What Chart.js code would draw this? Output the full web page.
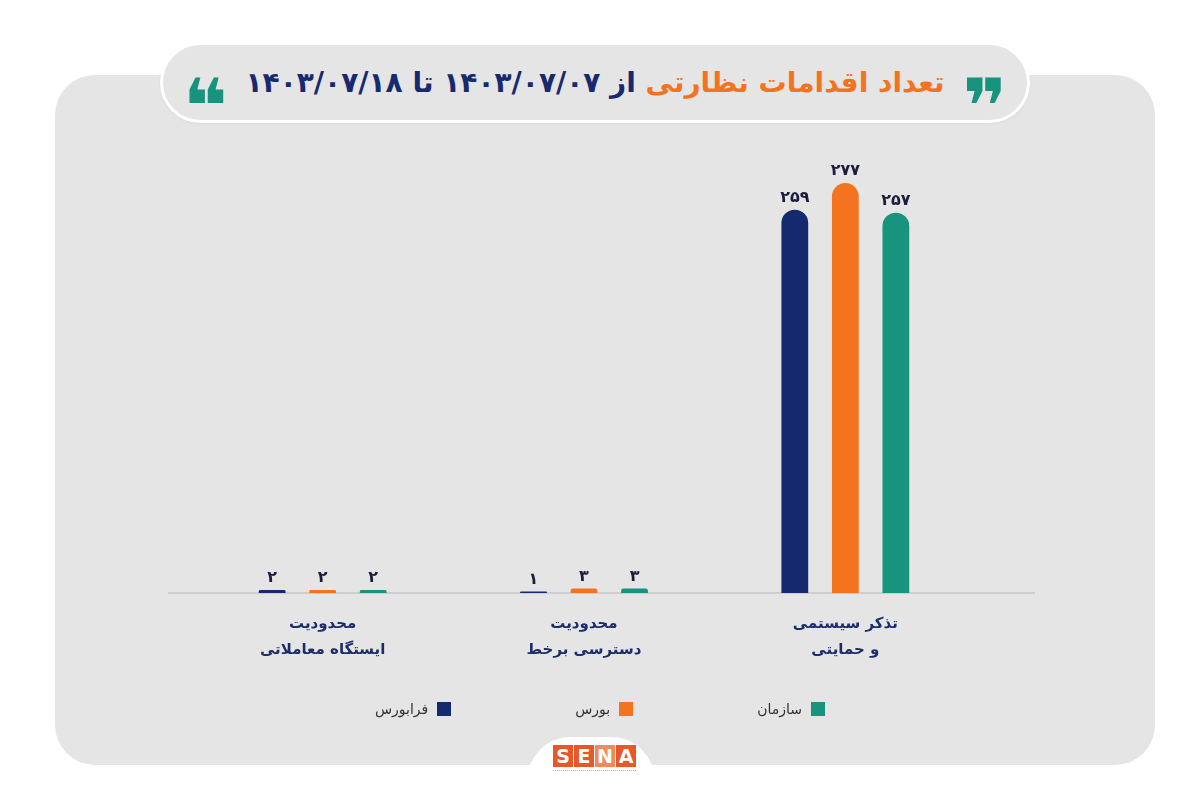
<!DOCTYPE html>
<html lang="fa">
<head>
<meta charset="utf-8">
<script src="https://cdn.jsdelivr.net/npm/chart.js@4.4.1/dist/chart.umd.min.js"></script>
<style>
  html, body { margin:0; padding:0; background:#ffffff; }
  body { width:1200px; height:800px; position:relative; overflow:hidden; font-family:"DejaVu Sans", sans-serif; }
  #panel { position:absolute; left:55px; top:75px; width:1100px; height:690px; background:#e6e5e6; border-radius:40px; }
  #titlePill { position:absolute; left:160px; top:42px; width:864px; height:75px; background:#e6e5e6; border:3px solid #ffffff; border-radius:42px;
    display:flex; align-items:center; justify-content:center; direction:rtl; box-shadow:0 1px 3px rgba(0,0,0,0.05); }
  #titlePill .q { color:#17937e; font-family:"DejaVu Sans", sans-serif; font-weight:bold; font-size:76px; line-height:1; height:40px; margin:0 6px; position:relative; top:6px; }
  #titlePill .t { font-weight:bold; font-size:28px; white-space:nowrap; color:#172a6e; margin:0 12px; }
  #titlePill .t .o { color:#f4731e; }
  #chartWrap { position:absolute; left:0; top:0; width:1200px; height:800px; }
  #legend { position:absolute; left:0; top:701px; width:1200px; display:flex; justify-content:center; direction:rtl; gap:124px; }
  #legend .item { display:flex; align-items:center; direction:rtl; font-size:14px; color:#333; }
  #legend .box { width:14px; height:14px; margin-left:9px; }
  #tab { position:absolute; left:527px; top:737px; width:128px; height:80px; background:#fff; border-radius:44px 44px 0 0; }
  #logo { position:absolute; left:553px; top:745px; display:flex; gap:1px; }
  #logo span { display:block; width:20px; height:22px; background:#e8572a; color:#fff; font:bold 19px "DejaVu Sans", sans-serif; text-align:center; line-height:22px; }
  #logo span.n { background:#f08a5d; }
  #logoSub { position:absolute; left:553px; top:770px; width:83px; height:3px; border-top:1px dotted #c9a28f; }
</style>
</head>
<body>
<div id="panel"></div>
<div id="titlePill">
  <span class="q">❞</span>
  <span class="t"><span class="o">تعداد اقدامات نظارتی</span> از ۱۴۰۳/۰۷/۰۷ تا ۱۴۰۳/۰۷/۱۸</span>
  <span class="q">❝</span>
</div>
<div id="tab"></div>
<div id="logo"><span>S</span><span>E</span><span class="n">N</span><span>A</span></div>
<div id="logoSub"></div>
<div id="chartWrap"><canvas id="c" width="1200" height="800"></canvas></div>
<div id="legend"></div>
<script>
const categories = [["محدودیت", "ایستگاه معاملاتی"], ["محدودیت", "دسترسی برخط"], ["تذکر سیستمی", "و حمایتی"]];
const seriesNames = ["فرابورس", "بورس", "سازمان"];
const faraboursValues = [2, 1, 259];
const boursValues = [2, 3, 277];
const sazmanValues = [2, 3, 257];
const seriesColors = ["#14296e", "#f4731e", "#17937e"];

const faDigits = '۰۱۲۳۴۵۶۷۸۹';
const toFa = v => String(v).replace(/\d/g, d => faDigits[d]);

const valueLabels = {
  id: 'valueLabels',
  afterDatasetsDraw(chart) {
    const ctx = chart.ctx;
    ctx.save();
    ctx.font = 'bold 16px "DejaVu Sans", sans-serif';
    ctx.fillStyle = '#1c1d3a';
    ctx.textAlign = 'center';
    ctx.textBaseline = 'bottom';
    chart.data.datasets.forEach((ds, i) => {
      chart.getDatasetMeta(i).data.forEach((el, j) => {
        ctx.fillText(toFa(ds.data[j]), el.x, el.y - 4);
      });
    });
    ctx.restore();
  }
};

const baseline = {
  id: 'baseline',
  beforeDatasetsDraw(chart) {
    const ctx = chart.ctx, area = chart.chartArea;
    const y = chart.scales.y.getPixelForValue(0);
    ctx.save();
    ctx.strokeStyle = '#b5b5b8';
    ctx.lineWidth = 1.2;
    ctx.beginPath();
    ctx.moveTo(area.left - 24, y);
    ctx.lineTo(area.right + 59, y);
    ctx.stroke();
    ctx.restore();
  }
};

const htmlLegend = {
  id: 'htmlLegend',
  afterUpdate(chart) {
    const el = document.getElementById('legend');
    el.innerHTML = '';
    chart.data.datasets.slice().reverse().forEach(ds => {
      const item = document.createElement('div');
      item.className = 'item';
      const box = document.createElement('span');
      box.className = 'box';
      box.style.background = ds.backgroundColor;
      const txt = document.createElement('span');
      txt.textContent = ds.label;
      item.appendChild(box);
      item.appendChild(txt);
      el.appendChild(item);
    });
  }
};

new Chart(document.getElementById('c'), {
  type: 'bar',
  data: {
    labels: categories,
    datasets: [
      { label: seriesNames[0], data: faraboursValues, backgroundColor: seriesColors[0] },
      { label: seriesNames[1], data: boursValues, backgroundColor: seriesColors[1] },
      { label: seriesNames[2], data: sazmanValues, backgroundColor: seriesColors[2] }
    ]
  },
  options: {
    responsive: false,
    animation: false,
    devicePixelRatio: 1,
    layout: { padding: { left: 192, right: 224, top: 149, bottom: 105 } },
    datasets: {
      bar: { categoryPercentage: 0.58, barPercentage: 0.53, borderRadius: 14, borderSkipped: 'start' }
    },
    plugins: {
      legend: { display: false },
      tooltip: { enabled: false }
    },
    scales: {
      x: {
        grid: { display: false },
        border: { display: false },
        ticks: {
          color: '#1b2d6b',
          font: { family: '"DejaVu Sans", sans-serif', size: 15, weight: 'bold', lineHeight: 1.75 },
          padding: 10,
          maxRotation: 0
        },
        afterFit(scale) { scale.height = 102; }
      },
      y: {
        display: false,
        min: 0,
        max: 300
      }
    }
  },
  plugins: [valueLabels, baseline, htmlLegend]
});
</script>
</body>
</html>
